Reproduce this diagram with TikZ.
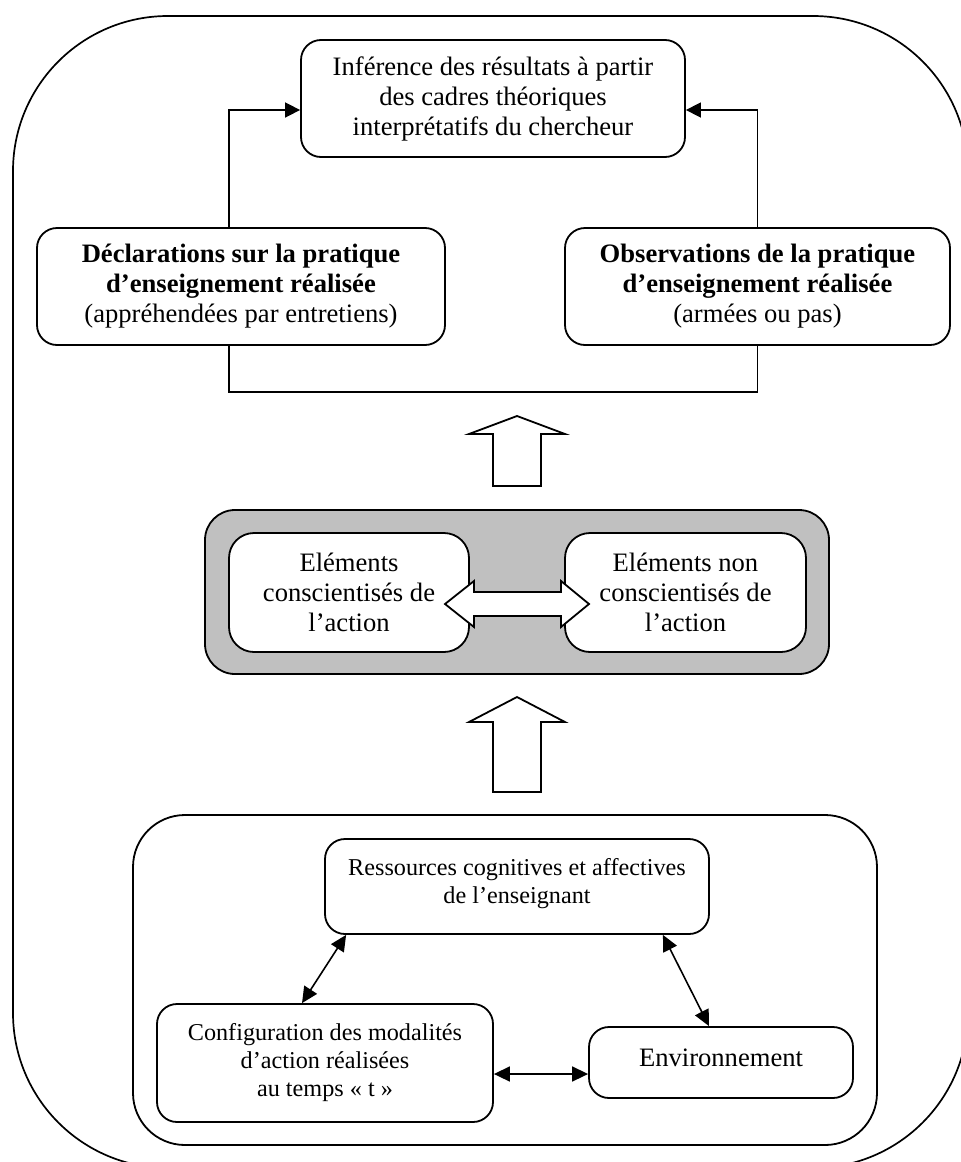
\documentclass[tikz,border=0pt]{standalone}
\usepackage{fontspec}
\setmainfont{Liberation Serif}
\usetikzlibrary{arrows.meta,calc}
\definecolor{boxgray}{HTML}{C0C0C0}
\begin{document}
\begin{tikzpicture}[x=1pt,y=-1pt,
  box/.style={draw, line width=1.8pt, rounded corners=20pt, fill=white, align=center, inner sep=0pt, font=\fontsize{26.6}{30}\selectfont},
  small/.style={font=\fontsize{24.2}{28}\selectfont},
  frame/.style={draw, line width=1.7pt},
  conn/.style={line width=1.6pt, -{Triangle[length=15pt,width=15pt]}},
  dconn/.style={line width=1.6pt, {Triangle[length=16pt,width=15pt]}-{Triangle[length=16pt,width=15pt]}},
  plain/.style={line width=1.6pt},
  block/.style={draw, line width=1.8pt, fill=white, line join=miter}]
\useasboundingbox (0,0) rectangle (961,1162);
\begin{scope}
  \clip (0,0) rectangle (961,1162);
  \draw[frame, rounded corners=155pt] (13,16) rectangle (968,1168);
\end{scope}

% top part
\node[box, minimum width=384pt, minimum height=117pt] (top) at (493,98.5)
  {Inférence des résultats à partir\\des cadres théoriques\\interprétatifs du chercheur};
\node[box, minimum width=408pt, minimum height=117pt] (decl) at (241,286.5)
  {\textbf{Déclarations sur la pratique}\\\textbf{d’enseignement réalisée}\\(appréhendées par entretiens)};
\node[box, minimum width=385pt, minimum height=117pt] (obs) at (757.5,286.5)
  {\textbf{Observations de la pratique}\\\textbf{d’enseignement réalisée}\\(armées ou pas)};

\coordinate (c1) at (229,110);
\coordinate (c2) at (757.5,110);
\coordinate (c3) at (0,392);
\draw[conn] (decl.north -| c1) |- (top.west |- c1);
\draw[conn] (obs.north) |- (top.east |- c2);
\draw[plain] (decl.south -| c1) -- (c1 |- c3) -- (obs.south |- c3) -- (obs.south);

% first block arrow
\draw[block] (493,486) -- (493,434) -- (469,434) -- (517,416) -- (565,434) -- (541,434) -- (541,486) -- cycle;

% gray container
\node[draw, line width=1.8pt, rounded corners=30pt, fill=boxgray, minimum width=624pt, minimum height=164pt] (grey) at (517,592) {};
\node[box, rounded corners=25pt, minimum width=240pt, minimum height=119pt] (cons) at (349,592.5)
  {Eléments\\conscientisés de\\l’action};
\node[box, rounded corners=25pt, minimum width=241pt, minimum height=119pt] (ncons) at (685.5,592.5)
  {Eléments non\\conscientisés de\\l’action};
\draw[block] (445,604) -- (474,581) -- (474,592) -- (561,592) -- (561,581) -- (589,604) -- (561,627) -- (561,616) -- (474,616) -- (474,627) -- cycle;

% second block arrow
\draw[block] (493,792) -- (493,722) -- (469,722) -- (517,697) -- (565,722) -- (541,722) -- (541,792) -- cycle;

% bottom container
\node[draw, line width=1.8pt, rounded corners=52pt, minimum width=744pt, minimum height=330pt] (bottom) at (505,980) {};
\node[box, small, minimum width=384pt, minimum height=95pt] (res) at (517,886.5)
  {Ressources cognitives et affectives\\de l’enseignant\rule[-12pt]{0pt}{12pt}};
\node[box, small, minimum width=336pt, minimum height=118pt] (conf) at (325,1063)
  {Configuration des modalités\\d’action réalisées\\au temps «~t~»};
\node[box, minimum width=264pt, minimum height=71pt] (env) at (721,1062.5)
  {Environnement\rule[-10pt]{0pt}{10pt}};

\coordinate (c4) at (0,1074);
\draw[dconn] ($(res.south west)+(22,0)$) -- ($(conf.north)+(-23,0)$);
\draw[dconn] ($(res.south east)+(-47,0)$) -- ($(env.north)+(-12,0)$);
\draw[dconn] (conf.east |- c4) -- (env.west |- c4);
\end{tikzpicture}
\end{document}
